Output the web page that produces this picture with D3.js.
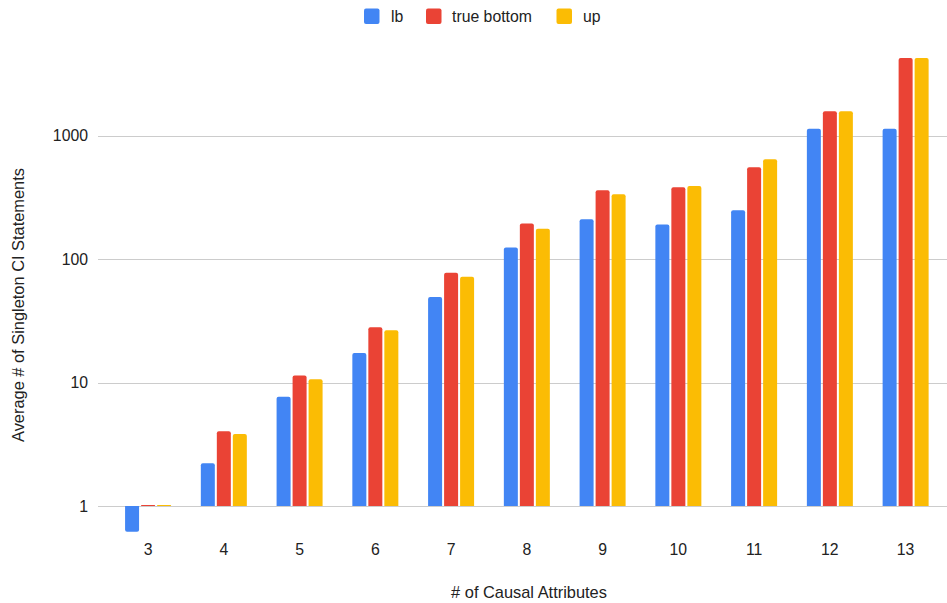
<!DOCTYPE html>
<html>
<head>
<meta charset="utf-8">
<script src="https://cdn.jsdelivr.net/npm/d3@7"></script>
<style>
  html, body { margin: 0; padding: 0; background: #fff; }
  svg { display: block; font-family: "Liberation Sans", Arial, sans-serif; }
</style>
</head>
<body>
<svg id="chart" width="947" height="603"></svg>
<script>
// Average number of singleton CI statements per number of causal attributes
const categories = ["3", "4", "5", "6", "7", "8", "9", "10", "11", "12", "13"];
const seriesNames = ["lb", "true bottom", "up"];
const lbValues = [0.62, 2.22, 7.67, 17.3, 49.2, 124, 210, 190, 248, 1135, 1135];
const trueBottomValues = [1.02, 4.03, 11.4, 28, 77.4, 194, 360, 381, 552, 1571, 4245];
const upValues = [1.02, 3.83, 10.6, 26.5, 71.9, 176, 334, 390, 642, 1571, 4245];
const yTickValues = [1, 10, 100, 1000];
const colors = ["#4285F4", "#EA4335", "#FBBC04"];

const series = [lbValues, trueBottomValues, upValues];
const svg = d3.select("#chart");
const fontSize = 15.8;
const titleSize = 16.4;

const x0 = d3.scaleBand().domain(categories).range([110.2, 943.5]).padding(0);
const groupW = 46;
const x1 = d3.scaleBand().domain(seriesNames).range([0, groupW]).paddingInner(0.125);
const y = d3.scaleLog().domain([1, 10000]).range([506, 12]);

// gridlines
svg.append("g").selectAll("line").data(yTickValues).join("line")
  .attr("x1", 98).attr("x2", 947)
  .attr("y1", d => Math.round(y(d)) + 0.5).attr("y2", d => Math.round(y(d)) + 0.5)
  .attr("stroke", "#cccccc").attr("stroke-width", 1);

// y tick labels
svg.append("g").selectAll("text").data(yTickValues).join("text")
  .attr("x", 88).attr("y", d => y(d)).attr("dy", "0.35em")
  .attr("text-anchor", "end").attr("font-size", fontSize).attr("fill", "#222")
  .text(d => d3.format("d")(d));

// bar with rounded far end
function barPath(xl, w, yBase, yEnd, r) {
  const up = yEnd < yBase;
  const h = Math.abs(yBase - yEnd);
  const rr = Math.min(r, h / 2, w / 2);
  if (up) {
    return `M${xl},${yBase}V${yEnd + rr}Q${xl},${yEnd} ${xl + rr},${yEnd}H${xl + w - rr}Q${xl + w},${yEnd} ${xl + w},${yEnd + rr}V${yBase}Z`;
  }
  return `M${xl},${yBase}V${yEnd - rr}Q${xl},${yEnd} ${xl + rr},${yEnd}H${xl + w - rr}Q${xl + w},${yEnd} ${xl + w},${yEnd - rr}V${yBase}Z`;
}

const bars = [];
categories.forEach((c, i) => {
  seriesNames.forEach((s, j) => {
    bars.push({ cat: c, name: s, value: series[j][i], color: colors[j] });
  });
});

const groupOffset = (x0.bandwidth() - groupW) / 2;
svg.append("g").selectAll("path").data(bars).join("path")
  .attr("d", d => barPath(x0(d.cat) + groupOffset + x1(d.name), x1.bandwidth(), y(1), y(d.value), 2))
  .attr("fill", d => d.color);

// x tick labels
svg.append("g").selectAll("text").data(categories).join("text")
  .attr("x", d => x0(d) + x0.bandwidth() / 2).attr("y", 555)
  .attr("text-anchor", "middle").attr("font-size", fontSize).attr("fill", "#222")
  .text(d => d);

// axis titles
svg.append("text").attr("x", 529).attr("y", 598)
  .attr("text-anchor", "middle").attr("font-size", titleSize).attr("fill", "#222")
  .text("# of Causal Attributes");
svg.append("text").attr("transform", "translate(24,305) rotate(-90)")
  .attr("text-anchor", "middle").attr("font-size", titleSize).attr("fill", "#222")
  .text("Average # of Singleton CI Statements");

// legend
const legendItems = [
  { name: "lb", sx: 364, tx: 391 },
  { name: "true bottom", sx: 426, tx: 452 },
  { name: "up", sx: 556.5, tx: 583 }
];
const lg = svg.append("g");
legendItems.forEach((d, i) => {
  lg.append("rect").attr("x", d.sx).attr("y", 8.5).attr("width", 15.5).attr("height", 15.5)
    .attr("rx", 2).attr("fill", colors[i]);
  lg.append("text").attr("x", d.tx).attr("y", 16.5).attr("dy", "0.35em")
    .attr("font-size", fontSize).attr("fill", "#222").text(d.name);
});
</script>
</body>
</html>
